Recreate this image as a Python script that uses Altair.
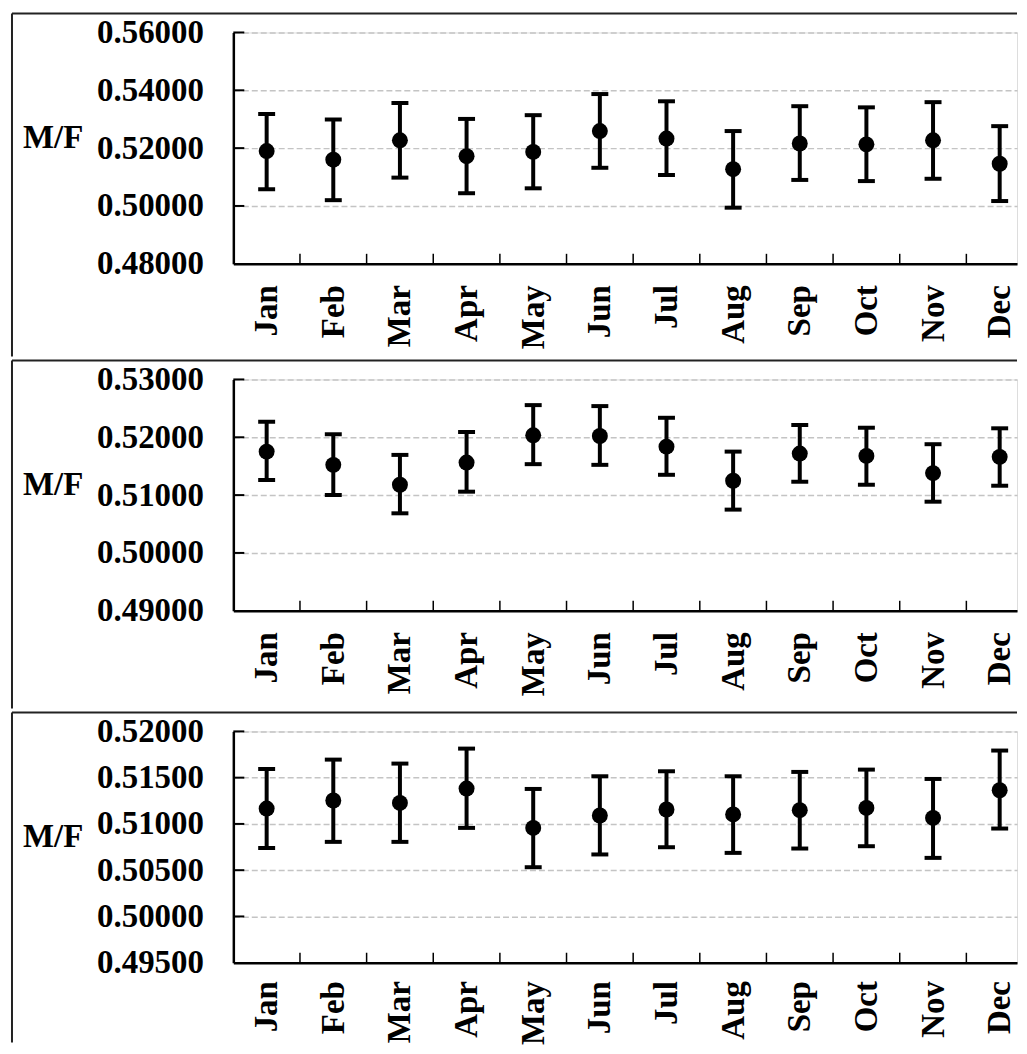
import json
import altair as alt
import pandas as pd

months = ["Jan", "Feb", "Mar", "Apr", "May", "Jun", "Jul", "Aug", "Sep", "Oct", "Nov", "Dec"]

p1_mean = [0.5190, 0.5160, 0.5227, 0.5172, 0.5187, 0.5259, 0.5233, 0.5127, 0.5216, 0.5213, 0.5227, 0.5146]
p1_low = [0.5058, 0.5020, 0.5098, 0.5044, 0.5061, 0.5132, 0.5107, 0.4994, 0.5090, 0.5086, 0.5094, 0.5017]
p1_high = [0.5318, 0.5299, 0.5356, 0.5301, 0.5314, 0.5387, 0.5362, 0.5259, 0.5345, 0.5341, 0.5359, 0.5276]
p1_ticks = [0.48, 0.50, 0.52, 0.54, 0.56]

p2_mean = [0.51752, 0.51523, 0.51179, 0.51563, 0.52034, 0.52022, 0.51838, 0.51248, 0.51718, 0.51678, 0.51380, 0.51661]
p2_low = [0.51260, 0.51002, 0.50685, 0.51059, 0.51535, 0.51523, 0.51351, 0.50749, 0.51231, 0.51179, 0.50886, 0.51162]
p2_high = [0.52269, 0.52052, 0.51695, 0.52091, 0.52556, 0.52539, 0.52337, 0.51752, 0.52212, 0.52165, 0.51880, 0.52155]
p2_ticks = [0.49, 0.50, 0.51, 0.52, 0.53]

p3_mean = [0.51166, 0.51253, 0.51227, 0.51382, 0.50957, 0.51091, 0.51156, 0.51102, 0.51148, 0.51173, 0.51065, 0.51364]
p3_low = [0.50741, 0.50806, 0.50806, 0.50957, 0.50532, 0.50670, 0.50748, 0.50687, 0.50734, 0.50759, 0.50633, 0.50950]
p3_high = [0.51594, 0.51695, 0.51652, 0.51814, 0.51378, 0.51515, 0.51569, 0.51515, 0.51562, 0.51587, 0.51486, 0.51793]
p3_ticks = [0.495, 0.500, 0.505, 0.510, 0.515, 0.520]

# month positions (index) and the boundaries between month slots
month_idx = list(range(len(months)))
boundaries = [i - 0.5 for i in month_idx[1:]]
# the last slot runs past the right edge of the page, as in the original
x_domain = [-0.5, 11.26]

FONT = "Liberation Serif"
W = 786
H = 232
LABEL_EXPR = json.dumps(months) + "[datum.value]"


def panel(mean, low, high, ticks, left_len, label_pad):
    df = pd.DataFrame({"idx": month_idx, "month": months, "mean": mean, "low": low, "high": high})
    xscale = alt.Scale(domain=x_domain, nice=False, zero=False)
    yscale = alt.Scale(domain=[ticks[0], ticks[-1]], nice=False, zero=False)
    x = alt.X(
        "idx:Q",
        scale=xscale,
        axis=alt.Axis(
            title=None, values=month_idx, labelExpr=LABEL_EXPR, labelAngle=-90,
            labelAlign="right", labelBaseline="middle", labelFlush=False,
            labelOverlap=False, labelFont=FONT, labelFontSize=33,
            labelFontWeight="bold", labelColor="black", ticks=False, tickSize=0,
            labelPadding=label_pad, domain=True, domainColor="black",
            domainWidth=2.5, grid=False,
        ),
    )
    yaxis = alt.Axis(
        values=ticks, format=".5f", title="M/F", titleAngle=0, titleAlign="right",
        titleBaseline="middle", titleX=-151, titleY=105, titleFont=FONT,
        titleFontSize=33, titleFontWeight="bold", titleColor="black",
        labelFont=FONT, labelFontSize=33, labelFontWeight="bold", labelColor="black",
        labelPadding=30, ticks=False, tickSize=0, grid=True, gridDash=[6, 3],
        gridColor="#c4c4c4", gridWidth=1.5, domainColor="black", domainWidth=2.5,
    )
    base = alt.Chart(df)
    bars = base.mark_rule(color="black", strokeWidth=4).encode(
        x=x, y=alt.Y("low:Q", scale=yscale, axis=yaxis), y2="high:Q"
    )
    cap_lo = base.mark_tick(
        color="black", size=17, thickness=4, opacity=1, orient="horizontal"
    ).encode(x=alt.X("idx:Q", scale=xscale), y=alt.Y("low:Q", scale=yscale))
    cap_hi = base.mark_tick(
        color="black", size=17, thickness=4, opacity=1, orient="horizontal"
    ).encode(x=alt.X("idx:Q", scale=xscale), y=alt.Y("high:Q", scale=yscale))
    pts = base.mark_circle(color="black", size=256, opacity=1).encode(
        x=alt.X("idx:Q", scale=xscale), y=alt.Y("mean:Q", scale=yscale)
    )
    xt = alt.Chart(pd.DataFrame({"b": boundaries})).mark_rule(
        color="black", strokeWidth=1.5
    ).encode(
        x=alt.X("b:Q", scale=xscale), y=alt.value(H - 10), y2=alt.value(H),
    )
    yt = alt.Chart(pd.DataFrame({"v": ticks[1:]})).mark_rule(
        color="black", strokeWidth=2
    ).encode(
        y=alt.Y("v:Q", scale=yscale), x=alt.value(0), x2=alt.value(11)
    )
    one = pd.DataFrame({"k": [0]})
    top_line = alt.Chart(one).mark_rule(color="#222222", strokeWidth=2).encode(
        x=alt.value(-222), x2=alt.value(W), y=alt.value(-19)
    )
    left_line = alt.Chart(one).mark_rule(color="#222222", strokeWidth=2).encode(
        x=alt.value(-222), y=alt.value(-19), y2=alt.value(left_len)
    )
    return alt.layer(
        bars, cap_lo, cap_hi, pts, xt, yt, top_line, left_line
    ).properties(width=W, height=H)


chart = alt.vconcat(
    panel(p1_mean, p1_low, p1_high, p1_ticks, 325, 21),
    panel(p2_mean, p2_low, p2_high, p2_ticks, 330, 21),
    panel(p3_mean, p3_low, p3_high, p3_ticks, 312, 18),
    spacing=0,
).properties(
    padding={"left": 2, "top": 2, "right": 0, "bottom": 0}
).configure_view(stroke="transparent").configure(background="white")

chart.save("out.html", embed_options={"renderer": "svg", "actions": False})
